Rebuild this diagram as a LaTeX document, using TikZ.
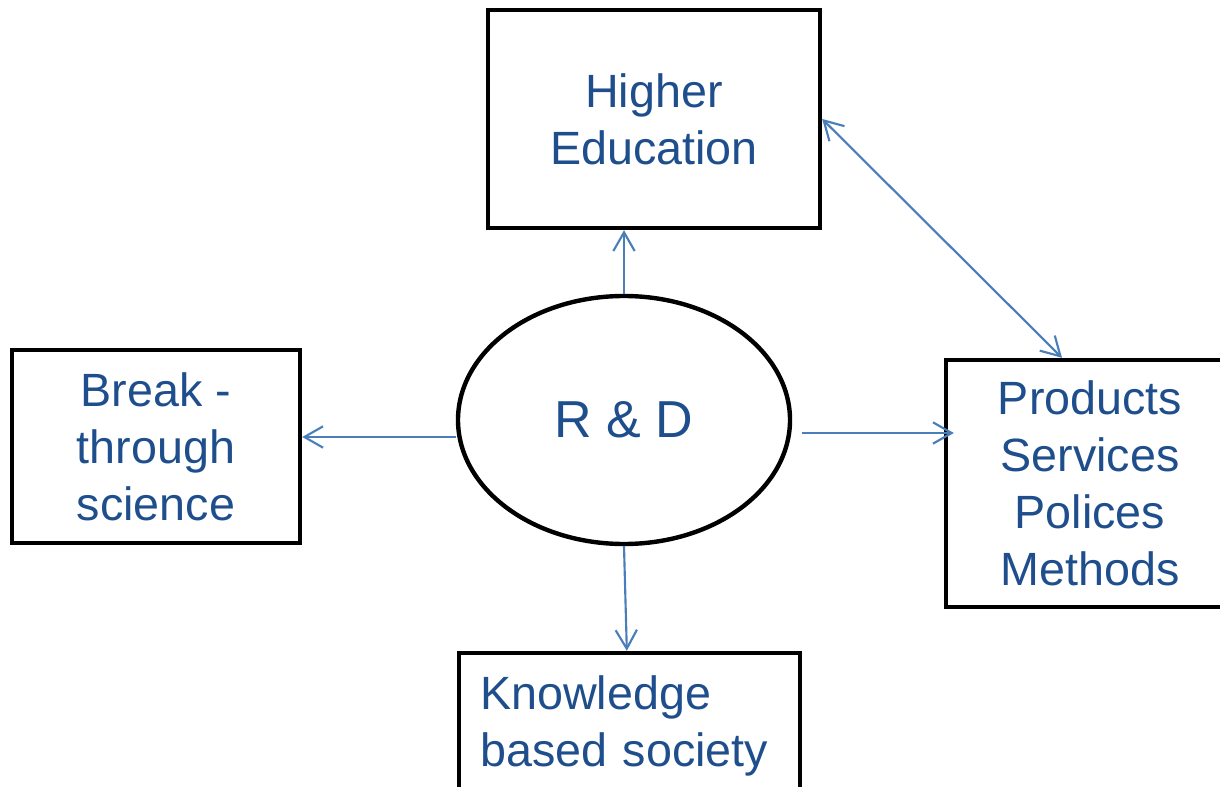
\documentclass[tikz,border=0pt]{standalone}
\usepackage{fontspec}
\setmainfont{Liberation Sans}
\usetikzlibrary{arrows.meta, positioning, shapes.geometric}
\definecolor{txtBlue}{RGB}{31,78,140}
\definecolor{lnBlue}{RGB}{74,126,187}
\tikzset{
    boxR/.style={
        draw=black, line width=3.3pt, rectangle, inner sep=0pt,
        text=txtBlue, font=\fontsize{35}{42.75}\selectfont
    },
    ovalR/.style={
        draw=black, line width=3.3pt, ellipse, inner sep=0pt,
        text=txtBlue, font=\fontsize{39}{46}\selectfont
    },
    linkA/.style={
        draw=lnBlue, line width=1.6pt,
        -{Straight Barb[length=14pt,width=16pt,line width=1.6pt]}
    },
    linkB/.style={
        linkA, {Straight Barb[length=14pt,width=16pt,line width=1.6pt]}-{Straight Barb[length=14pt,width=16pt,line width=1.6pt]}
    }
}
\begin{document}
\begin{tikzpicture}[x=0.75pt, y=-0.75pt]
    \useasboundingbox (0,0) rectangle (1220,787);
    % centre ellipse
    \node[ovalR, minimum width=249pt, minimum height=186pt] (rd) at (624,420) {R \& D};
    % boxes round it
    \node[boxR, minimum width=249pt, minimum height=163.5pt, align=center] (he) at (654,119) {Higher\\Education};
    \node[boxR, minimum width=216pt, minimum height=144.75pt, align=center] (br) at (156,446.5) {Break -\\through\\science};
    \node[boxR, minimum width=216pt, minimum height=185.25pt, align=center] (pr) at (1090,483.5) {Products\\Services\\Polices\\Methods};
    \node[boxR, minimum width=255.75pt, minimum height=109.5pt, text width=224pt, align=left] (kn) at (629.5,726) {Knowledge\\based society};
    % arrows
    \draw[linkA] (rd.north) -- (rd.north |- he.south);
    \draw[linkA] ([yshift=-12.75pt]rd.west) -- ([yshift=-12.75pt]rd.west -| br.east);
    \draw[linkA] ([xshift=7.5pt,yshift=-9.75pt]rd.east) -- ([xshift=7.5pt,yshift=-9.75pt]rd.east -| pr.west);
    \draw[linkA] (rd.south) -- ([xshift=-2pt]kn.north);
    \draw[linkB] (he.east) -- ([xshift=-21pt]pr.north);
\end{tikzpicture}
\end{document}
